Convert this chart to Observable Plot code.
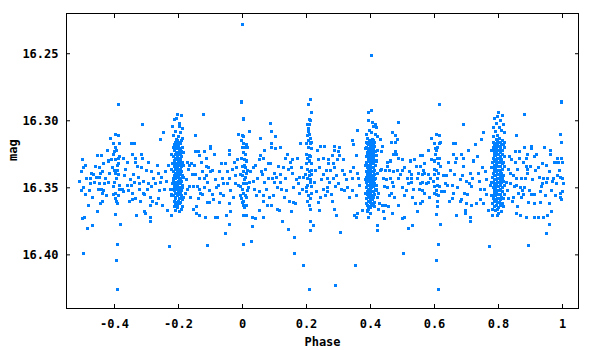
<!DOCTYPE html>
<html><head><meta charset="utf-8">
<script src="https://cdn.jsdelivr.net/npm/d3@7"></script>
<script src="https://cdn.jsdelivr.net/npm/@observablehq/plot@0.6"></script>
<style>html,body{margin:0;padding:0;background:#fff;}</style>
</head><body><div id="chart"></div>
<script>
const xTicks = [-0.4, -0.2, 0, 0.2, 0.4, 0.6, 0.8, 1];
const yTicks = [16.25, 16.30, 16.35, 16.40];
const xLabel = "Phase";
const yLabel = "mag";

const bandA = [[-0.5,16.329],[-0.497,16.335],[-0.503,16.338],[-0.472,16.339],[-0.466,16.340],[-0.453,16.326],[-0.441,16.326],[-0.447,16.335],[-0.434,16.332],[-0.422,16.322],[-0.419,16.330],[-0.438,16.338],[-0.488,16.343],[-0.475,16.343],[-0.456,16.342],[-0.447,16.342],[-0.503,16.352],[-0.497,16.350],[-0.475,16.347],[-0.491,16.355],[-0.469,16.357],[-0.481,16.363],[-0.5,16.373],[-0.494,16.372],[-0.484,16.380],[-0.453,16.368],[-0.45,16.351],[-0.441,16.351],[-0.447,16.347],[-0.431,16.347],[-0.438,16.354],[-0.434,16.352],[-0.444,16.362],[-0.438,16.360],[-0.497,16.399],[-0.469,16.378]];
const clumpM04 = [[-0.413,16.313],[-0.397,16.310],[-0.388,16.311],[-0.403,16.317],[-0.384,16.317],[-0.397,16.320],[-0.394,16.322],[-0.4,16.323],[-0.409,16.329],[-0.397,16.329],[-0.388,16.328],[-0.388,16.332],[-0.4,16.337],[-0.391,16.337],[-0.397,16.339],[-0.388,16.340],[-0.419,16.346],[-0.403,16.349],[-0.403,16.355],[-0.397,16.354],[-0.388,16.356],[-0.384,16.351],[-0.375,16.351],[-0.372,16.353],[-0.397,16.370],[-0.394,16.360],[-0.381,16.377],[-0.388,16.288],[-0.391,16.392],[-0.394,16.404],[-0.391,16.426],[-0.394,16.343],[-0.4,16.346],[-0.391,16.333],[-0.384,16.348],[-0.406,16.335],[-0.397,16.358],[-0.391,16.362],[-0.384,16.327],[-0.403,16.325]];
const bandB = [[-0.372,16.328],[-0.359,16.331],[-0.347,16.317],[-0.338,16.317],[-0.344,16.325],[-0.334,16.328],[-0.334,16.331],[-0.316,16.325],[-0.313,16.328],[-0.316,16.335],[-0.313,16.303],[-0.341,16.340],[-0.369,16.341],[-0.359,16.348],[-0.347,16.348],[-0.353,16.360],[-0.344,16.359],[-0.334,16.358],[-0.344,16.354],[-0.331,16.371],[-0.322,16.347],[-0.322,16.351],[-0.319,16.360],[-0.309,16.354],[-0.306,16.355],[-0.306,16.368],[-0.303,16.369],[-0.294,16.347],[-0.288,16.357],[-0.288,16.363],[-0.288,16.372],[-0.288,16.375],[-0.284,16.349],[-0.281,16.360],[-0.269,16.362],[-0.25,16.363],[-0.256,16.346],[-0.244,16.351],[-0.234,16.367],[-0.222,16.371],[-0.222,16.356],[-0.225,16.351],[-0.247,16.309],[-0.256,16.314],[-0.263,16.339],[-0.228,16.394],[-0.3,16.337],[-0.278,16.343],[-0.266,16.333],[-0.24,16.338],[-0.259,16.352],[-0.35,16.344],[-0.325,16.342],[-0.294,16.331]];
const clumpM02 = [[-0.203,16.295],[-0.191,16.296],[-0.206,16.298],[-0.213,16.299],[-0.197,16.302],[-0.219,16.304],[-0.197,16.304],[-0.188,16.306],[-0.209,16.308],[-0.194,16.309],[-0.216,16.311],[-0.188,16.313],
[-0.214,16.318],[-0.211,16.322],[-0.216,16.327],[-0.213,16.330],[-0.211,16.334],[-0.215,16.338],[-0.212,16.341],[-0.216,16.345],[-0.213,16.349],[-0.211,16.352],[-0.215,16.356],[-0.212,16.360],
[-0.207,16.314],[-0.205,16.317],[-0.208,16.320],[-0.206,16.324],[-0.204,16.326],[-0.208,16.329],[-0.205,16.332],[-0.207,16.335],[-0.204,16.337],[-0.206,16.340],[-0.208,16.343],[-0.205,16.346],[-0.207,16.348],[-0.204,16.351],[-0.206,16.354],[-0.208,16.357],[-0.205,16.361],[-0.207,16.364],
[-0.199,16.312],[-0.197,16.316],[-0.2,16.319],[-0.198,16.322],[-0.196,16.325],[-0.2,16.328],[-0.198,16.331],[-0.196,16.333],[-0.199,16.336],[-0.197,16.339],[-0.2,16.342],[-0.198,16.344],[-0.196,16.347],[-0.199,16.350],[-0.197,16.353],[-0.2,16.355],[-0.198,16.358],[-0.196,16.362],
[-0.191,16.315],[-0.189,16.320],[-0.192,16.323],[-0.19,16.327],[-0.188,16.331],[-0.192,16.334],[-0.19,16.338],[-0.188,16.341],[-0.191,16.345],[-0.189,16.348],[-0.192,16.352],[-0.19,16.356],[-0.188,16.359],
[-0.184,16.324],[-0.185,16.333],[-0.183,16.342],[-0.186,16.350],[-0.184,16.357],[-0.221,16.325],[-0.222,16.336],[-0.22,16.347],[-0.221,16.355],
[-0.203,16.365],[-0.197,16.368],[-0.191,16.366],[-0.213,16.364],[-0.209,16.367],[-0.188,16.364]];
const clumpM02b = [[-0.210,16.316],[-0.209,16.319],[-0.21,16.325],[-0.209,16.328],[-0.21,16.332],[-0.209,16.336],[-0.21,16.339],[-0.209,16.342],[-0.21,16.347],[-0.209,16.350],[-0.21,16.354],[-0.209,16.358],[-0.21,16.362],
[-0.202,16.315],[-0.201,16.318],[-0.202,16.321],[-0.201,16.324],[-0.202,16.327],[-0.201,16.330],[-0.202,16.334],[-0.201,16.338],[-0.202,16.341],[-0.201,16.345],[-0.202,16.349],[-0.201,16.352],[-0.202,16.356],[-0.201,16.360],[-0.202,16.363],
[-0.194,16.317],[-0.193,16.321],[-0.194,16.325],[-0.193,16.329],[-0.194,16.332],[-0.193,16.336],[-0.194,16.340],[-0.193,16.343],[-0.194,16.347],[-0.193,16.350],[-0.194,16.354],[-0.193,16.358],[-0.194,16.361],
[-0.217,16.320],[-0.218,16.332],[-0.217,16.343],[-0.218,16.351]];
const bandC = [[-0.147,16.311],[-0.122,16.295],[-0.172,16.331],[-0.159,16.332],[-0.147,16.323],[-0.138,16.323],[-0.134,16.326],[-0.128,16.331],[-0.119,16.323],[-0.113,16.328],[-0.1,16.319],[-0.1,16.321],[-0.088,16.325],[-0.113,16.334],[-0.106,16.335],[-0.1,16.338],[-0.113,16.341],[-0.119,16.343],[-0.134,16.343],[-0.147,16.340],[-0.156,16.340],[-0.169,16.336],[-0.166,16.333],[-0.066,16.332],[-0.053,16.332],[-0.041,16.322],[-0.041,16.325],[-0.047,16.338],[-0.063,16.343],[-0.041,16.343],[-0.025,16.331],[-0.016,16.329],[-0.019,16.335],[-0.013,16.310],[-0.022,16.341],[-0.006,16.340],[-0.178,16.354],[-0.172,16.351],[-0.166,16.349],[-0.153,16.349],[-0.141,16.349],[-0.134,16.351],[-0.131,16.354],[-0.125,16.355],[-0.153,16.366],[-0.144,16.364],[-0.144,16.369],[-0.134,16.371],[-0.119,16.350],[-0.116,16.372],[-0.109,16.361],[-0.103,16.361],[-0.094,16.355],[-0.091,16.359],[-0.084,16.372],[-0.078,16.372],[-0.072,16.361],[-0.069,16.354],[-0.05,16.371],[-0.041,16.362],[-0.038,16.368],[-0.038,16.352],[-0.041,16.377],[-0.053,16.384],[-0.081,16.350],[-0.075,16.348],[-0.103,16.352],[-0.059,16.347],[-0.047,16.347],[-0.022,16.347],[-0.013,16.348],[-0.006,16.356],[-0.109,16.393]];
const clump00 = [[-0.003,16.286],[0.003,16.298],[0.003,16.299],[0,16.311],[0.003,16.312],[-0.003,16.315],[0.003,16.317],[0.013,16.318],[0,16.320],[0.009,16.320],[0.016,16.320],[0.003,16.324],[0.009,16.325],[-0.003,16.328],[0.006,16.329],[0.013,16.330],[0,16.334],[0.009,16.335],[0.016,16.337],[0.003,16.338],[0.013,16.339],[0,16.341],[0.009,16.342],[0.003,16.347],[0.013,16.347],[0.022,16.346],[0,16.351],[0.003,16.354],[0.009,16.356],[0.013,16.357],[-0.003,16.358],[0.003,16.360],[0.003,16.363],[0.006,16.365],[0.003,16.371],[0.013,16.371],[0.031,16.372],[0.041,16.373],[0.003,16.392],[0.028,16.390],[0.031,16.379],[0,16.228],[0.006,16.344],[-0.006,16.349],[0.016,16.352],[0.006,16.333],[0,16.361],[0.013,16.363]];
const bandD = [[0.022,16.308],[0.056,16.313],[0.088,16.302],[0.091,16.308],[0.103,16.312],[0.091,16.317],[0.091,16.320],[0.103,16.321],[0.119,16.320],[0.069,16.322],[0.141,16.325],[0.134,16.328],[0.156,16.329],[0.15,16.331],[0.172,16.328],[0.181,16.317],[0.056,16.326],[0.066,16.328],[0.053,16.329],[0.041,16.333],[0.034,16.335],[0.081,16.332],[0.088,16.332],[0.113,16.334],[0.072,16.336],[0.063,16.340],[0.1,16.339],[0.119,16.340],[0.081,16.343],[0.094,16.343],[0.047,16.343],[0.144,16.336],[0.153,16.335],[0.156,16.339],[0.134,16.343],[0.178,16.342],[0.019,16.350],[0.038,16.351],[0.053,16.353],[0.066,16.356],[0.066,16.360],[0.078,16.363],[0.091,16.363],[0.053,16.367],[0.066,16.372],[0.069,16.346],[0.1,16.346],[0.119,16.346],[0.138,16.352],[0.097,16.356],[0.109,16.350],[0.122,16.351],[0.109,16.366],[0.116,16.367],[0.147,16.360],[0.159,16.361],[0.166,16.362],[0.153,16.368],[0.159,16.350],[0.175,16.347],[0.178,16.354],[0.188,16.351],[0.125,16.375],[0.144,16.381],[0.163,16.387],[0.163,16.399],[0.191,16.408]];
const clump02 = [[0.213,16.284],[0.206,16.288],[0.216,16.294],[0.209,16.299],[0.213,16.300],[0.203,16.303],[0.209,16.303],[0.206,16.306],[0.206,16.308],[0.209,16.310],[0.203,16.311],[0.213,16.313],[0.206,16.315],[0.216,16.316],[0.2,16.317],[0.213,16.317],[0.206,16.320],[0.216,16.321],[0.2,16.325],[0.209,16.326],[0.213,16.327],[0.203,16.328],[0.209,16.330],[0.2,16.332],[0.216,16.332],[0.203,16.336],[0.209,16.338],[0.216,16.337],[0.197,16.340],[0.209,16.341],[0.216,16.340],[0.203,16.343],[0.213,16.344],[0.2,16.350],[0.206,16.356],[0.203,16.360],[0.209,16.363],[0.213,16.366],[0.203,16.348],[0.216,16.349],[0.213,16.346],[0.213,16.375],[0.222,16.378],[0.213,16.382],[0.209,16.426],[0.2,16.353],[0.213,16.358],[0.216,16.354]];
const bandE = [[0.234,16.322],[0.244,16.319],[0.256,16.319],[0.238,16.329],[0.253,16.328],[0.269,16.329],[0.288,16.319],[0.303,16.320],[0.288,16.322],[0.3,16.323],[0.281,16.326],[0.303,16.326],[0.269,16.332],[0.284,16.332],[0.297,16.329],[0.316,16.329],[0.263,16.337],[0.275,16.337],[0.288,16.335],[0.253,16.340],[0.266,16.343],[0.284,16.343],[0.294,16.341],[0.228,16.337],[0.241,16.335],[0.319,16.340],[0.344,16.315],[0.347,16.318],[0.359,16.307],[0.356,16.326],[0.347,16.335],[0.359,16.339],[0.344,16.343],[0.363,16.343],[0.238,16.361],[0.241,16.367],[0.244,16.357],[0.253,16.351],[0.266,16.350],[0.259,16.356],[0.266,16.353],[0.281,16.360],[0.294,16.371],[0.288,16.366],[0.291,16.349],[0.309,16.351],[0.319,16.352],[0.328,16.350],[0.344,16.352],[0.356,16.356],[0.306,16.383],[0.291,16.423],[0.353,16.408],[0.35,16.371],[0.356,16.372],[0.359,16.369],[0.375,16.367]];
const clump04 = [[0.403,16.251],[0.403,16.292],[0.394,16.294],[0.406,16.301],[0.394,16.300],[0.416,16.303],[0.409,16.304],[0.419,16.305],[0.397,16.307],[0.388,16.310],[0.403,16.309],[0.416,16.310],[0.391,16.313],[0.422,16.312],
[0.389,16.316],[0.387,16.320],[0.39,16.324],[0.388,16.327],[0.386,16.331],[0.39,16.335],[0.388,16.338],[0.386,16.342],[0.389,16.346],[0.387,16.350],[0.39,16.353],[0.388,16.358],[0.386,16.362],
[0.397,16.315],[0.395,16.318],[0.398,16.321],[0.396,16.324],[0.394,16.327],[0.398,16.330],[0.396,16.333],[0.394,16.336],[0.397,16.339],[0.395,16.342],[0.398,16.345],[0.396,16.348],[0.394,16.351],[0.397,16.354],[0.395,16.357],[0.398,16.360],[0.396,16.364],
[0.406,16.314],[0.404,16.317],[0.407,16.320],[0.405,16.323],[0.403,16.326],[0.407,16.329],[0.405,16.332],[0.403,16.335],[0.406,16.338],[0.404,16.341],[0.407,16.344],[0.405,16.347],[0.403,16.350],[0.406,16.353],[0.404,16.356],[0.407,16.359],[0.405,16.363],
[0.414,16.316],[0.412,16.319],[0.415,16.323],[0.413,16.326],[0.411,16.330],[0.415,16.333],[0.413,16.337],[0.411,16.340],[0.414,16.344],[0.412,16.347],[0.415,16.351],[0.413,16.355],[0.411,16.361],
[0.421,16.322],[0.42,16.330],[0.422,16.339],[0.419,16.348],[0.421,16.357],
[0.391,16.367],[0.394,16.366],[0.413,16.364],[0.4,16.369],[0.391,16.368],[0.394,16.372],[0.394,16.364],[0.403,16.363],[0.422,16.378],[0.422,16.382],[0.425,16.366]];
const clump04b = [[0.392,16.317],[0.393,16.322],[0.392,16.325],[0.393,16.329],[0.392,16.333],[0.393,16.337],[0.392,16.340],[0.393,16.344],[0.392,16.348],[0.393,16.352],[0.392,16.355],[0.393,16.360],[0.392,16.363],
[0.401,16.316],[0.4,16.319],[0.401,16.322],[0.4,16.325],[0.401,16.328],[0.4,16.331],[0.401,16.334],[0.4,16.337],[0.401,16.340],[0.4,16.343],[0.401,16.346],[0.4,16.349],[0.401,16.352],[0.4,16.355],[0.401,16.358],[0.4,16.361],[0.401,16.365],
[0.409,16.315],[0.41,16.318],[0.409,16.321],[0.41,16.325],[0.409,16.328],[0.41,16.331],[0.409,16.335],[0.41,16.338],[0.409,16.342],[0.41,16.346],[0.409,16.349],[0.41,16.353],[0.409,16.357],[0.41,16.362],
[0.384,16.321],[0.383,16.333],[0.384,16.344],[0.383,16.354],[0.418,16.326],[0.417,16.343],[0.418,16.352]];
const bandF = [[0.431,16.314],[0.438,16.319],[0.434,16.323],[0.434,16.336],[0.447,16.337],[0.459,16.337],[0.453,16.331],[0.453,16.334],[0.466,16.316],[0.469,16.309],[0.478,16.311],[0.484,16.314],[0.488,16.301],[0.478,16.316],[0.478,16.323],[0.481,16.325],[0.472,16.325],[0.488,16.328],[0.5,16.329],[0.506,16.335],[0.5,16.337],[0.484,16.337],[0.472,16.338],[0.522,16.338],[0.528,16.340],[0.463,16.343],[0.488,16.343],[0.516,16.343],[0.528,16.343],[0.441,16.343],[0.428,16.362],[0.438,16.363],[0.441,16.368],[0.444,16.373],[0.447,16.363],[0.456,16.364],[0.469,16.369],[0.488,16.363],[0.5,16.373],[0.506,16.372],[0.503,16.399],[0.519,16.380],[0.531,16.378],[0.425,16.354],[0.419,16.351],[0.444,16.349],[0.453,16.350],[0.459,16.356],[0.466,16.354],[0.469,16.346],[0.472,16.349],[0.5,16.350],[0.506,16.356],[0.519,16.347],[0.528,16.346],[0.531,16.357],[0.556,16.326],[0.563,16.326],[0.581,16.322],[0.569,16.332],[0.556,16.334],[0.566,16.337],[0.569,16.339],[0.563,16.340],[0.581,16.340],[0.588,16.343],[0.547,16.343],[0.556,16.347],[0.563,16.346],[0.553,16.351],[0.563,16.352],[0.569,16.354],[0.556,16.362],[0.563,16.360],[0.547,16.368],[0.581,16.346],[0.538,16.329],[0.544,16.334],[0.534,16.351],[0.541,16.362]];
const clump06 = [[0.616,16.288],[0.591,16.313],[0.606,16.310],[0.616,16.311],[0.6,16.317],[0.616,16.317],[0.619,16.316],[0.603,16.321],[0.609,16.320],[0.606,16.322],[0.591,16.329],[0.6,16.330],[0.609,16.328],[0.616,16.328],[0.6,16.336],[0.606,16.337],[0.613,16.339],[0.6,16.340],[0.609,16.343],[0.619,16.334],[0.6,16.349],[0.609,16.348],[0.616,16.349],[0.6,16.354],[0.606,16.355],[0.613,16.356],[0.606,16.352],[0.622,16.353],[0.631,16.353],[0.609,16.360],[0.606,16.370],[0.619,16.377],[0.613,16.392],[0.606,16.404],[0.613,16.426],[0.603,16.325],[0.613,16.332],[0.597,16.345],[0.609,16.364]];
const bandG = [[0.644,16.331],[0.628,16.341],[0.638,16.341],[0.659,16.317],[0.666,16.317],[0.659,16.325],[0.666,16.331],[0.669,16.328],[0.684,16.325],[0.691,16.328],[0.691,16.334],[0.663,16.340],[0.681,16.344],[0.691,16.303],[0.753,16.309],[0.747,16.314],[0.738,16.339],[0.763,16.344],[0.641,16.348],[0.656,16.348],[0.659,16.354],[0.656,16.358],[0.647,16.360],[0.669,16.371],[0.681,16.360],[0.684,16.359],[0.694,16.354],[0.703,16.355],[0.697,16.367],[0.697,16.369],[0.713,16.372],[0.713,16.375],[0.716,16.363],[0.731,16.362],[0.709,16.347],[0.716,16.349],[0.744,16.351],[0.756,16.351],[0.744,16.359],[0.753,16.362],[0.763,16.355],[0.769,16.367],[0.781,16.371],[0.772,16.394],[0.781,16.366],[0.706,16.322],[0.722,16.330],[0.728,16.318],[0.713,16.339],[0.734,16.327],[0.75,16.335],[0.7,16.345]];
const clump08 = [[0.8,16.294],[0.813,16.296],[0.788,16.298],[0.797,16.297],[0.806,16.300],[0.794,16.302],[0.816,16.303],[0.784,16.305],[0.803,16.305],[0.791,16.308],[0.81,16.307],[0.819,16.309],[0.797,16.311],[0.784,16.312],
[0.785,16.316],[0.783,16.320],[0.786,16.324],[0.784,16.328],[0.782,16.331],[0.786,16.335],[0.784,16.339],[0.782,16.342],[0.785,16.346],[0.783,16.350],[0.786,16.354],[0.784,16.358],[0.782,16.362],
[0.794,16.314],[0.792,16.317],[0.795,16.320],[0.793,16.323],[0.791,16.326],[0.795,16.329],[0.793,16.332],[0.791,16.335],[0.794,16.338],[0.792,16.341],[0.795,16.344],[0.793,16.347],[0.791,16.350],[0.794,16.353],[0.792,16.356],[0.795,16.359],[0.793,16.363],
[0.803,16.313],[0.801,16.316],[0.804,16.319],[0.802,16.322],[0.8,16.325],[0.804,16.328],[0.802,16.331],[0.8,16.334],[0.803,16.337],[0.801,16.340],[0.804,16.343],[0.802,16.346],[0.8,16.349],[0.803,16.352],[0.801,16.355],[0.804,16.358],[0.802,16.361],[0.8,16.365],
[0.812,16.315],[0.81,16.318],[0.813,16.322],[0.811,16.325],[0.809,16.329],[0.813,16.332],[0.811,16.336],[0.809,16.339],[0.812,16.343],[0.81,16.346],[0.813,16.350],[0.811,16.353],[0.809,16.357],[0.812,16.362],
[0.819,16.320],[0.818,16.327],[0.82,16.334],[0.817,16.341],[0.819,16.348],[0.818,16.355],
[0.791,16.367],[0.8,16.369],[0.809,16.368],[0.797,16.371]];
const clump08b = [[0.789,16.318],[0.788,16.322],[0.789,16.326],[0.788,16.330],[0.789,16.333],[0.788,16.337],[0.789,16.341],[0.788,16.344],[0.789,16.348],[0.788,16.352],[0.789,16.356],[0.788,16.360],[0.789,16.364],
[0.798,16.315],[0.797,16.318],[0.798,16.322],[0.797,16.325],[0.798,16.328],[0.797,16.331],[0.798,16.334],[0.797,16.337],[0.798,16.340],[0.797,16.343],[0.798,16.346],[0.797,16.349],[0.798,16.352],[0.797,16.355],[0.798,16.358],[0.797,16.361],[0.798,16.366],
[0.807,16.316],[0.806,16.320],[0.807,16.324],[0.806,16.327],[0.807,16.330],[0.806,16.334],[0.807,16.338],[0.806,16.341],[0.807,16.345],[0.806,16.348],[0.807,16.351],[0.806,16.355],[0.807,16.359],[0.806,16.363],
[0.779,16.322],[0.778,16.335],[0.779,16.346],[0.778,16.356],[0.816,16.318],[0.816,16.331],[0.815,16.345],[0.816,16.358]];
const bandH = [[0.856,16.311],[0.881,16.295],[0.819,16.316],[0.853,16.323],[0.866,16.323],[0.891,16.325],[0.881,16.320],[0.903,16.319],[0.903,16.321],[0.919,16.325],[0.913,16.327],[0.841,16.329],[0.853,16.331],[0.866,16.328],[0.878,16.331],[0.831,16.336],[0.838,16.339],[0.847,16.341],[0.856,16.343],[0.872,16.343],[0.888,16.334],[0.9,16.334],[0.891,16.336],[0.891,16.339],[0.888,16.328],[0.938,16.332],[0.95,16.333],[0.959,16.338],[0.941,16.343],[0.953,16.343],[0.963,16.322],[0.963,16.325],[0.975,16.331],[0.981,16.331],[0.984,16.328],[0.988,16.331],[1.0,16.331],[0.994,16.310],[0.997,16.316],[0.997,16.328],[0.997,16.286],[0.984,16.341],[0.994,16.342],[1.0,16.343],[0.972,16.343],[0.816,16.364],[0.825,16.346],[0.831,16.358],[0.844,16.360],[0.838,16.347],[0.85,16.349],[0.856,16.348],[0.859,16.364],[0.856,16.369],[0.869,16.371],[0.869,16.350],[0.875,16.352],[0.881,16.350],[0.863,16.354],[0.878,16.355],[0.897,16.352],[0.903,16.355],[0.913,16.355],[0.894,16.361],[0.913,16.362],[0.888,16.372],[0.913,16.372],[0.925,16.372],[0.894,16.393],[0.931,16.353],[0.931,16.361],[0.941,16.372],[0.953,16.371],[0.95,16.384],[0.959,16.377],[0.959,16.362],[0.966,16.368],[0.938,16.347],[0.95,16.346],[0.966,16.352],[0.981,16.347],[0.994,16.354],[1.0,16.353],[0.994,16.357],[0.997,16.359],[0.925,16.335],[0.928,16.342],[0.944,16.320]];
const bandExtra = [[-0.509,16.345],[-0.49,16.333],[-0.478,16.352],[-0.463,16.346],[-0.459,16.334],[-0.444,16.339],[-0.428,16.343],[-0.425,16.356],[-0.416,16.339],
[-0.366,16.336],[-0.356,16.352],[-0.338,16.346],[-0.328,16.334],[-0.31,16.345],[-0.297,16.351],[-0.284,16.338],[-0.272,16.347],[-0.262,16.358],[-0.253,16.342],[-0.238,16.345],[-0.231,16.333],
[-0.175,16.344],[-0.163,16.357],[-0.15,16.333],[-0.138,16.358],[-0.125,16.338],[-0.109,16.346],[-0.094,16.337],[-0.084,16.344],[-0.072,16.338],[-0.059,16.356],[-0.031,16.336],[-0.028,16.357],
[0.025,16.338],[0.034,16.345],[0.044,16.356],[0.059,16.338],[0.075,16.351],[0.084,16.357],[0.106,16.342],[0.128,16.335],[0.131,16.357],[0.169,16.344],[0.184,16.335],[0.191,16.342],
[0.225,16.346],[0.231,16.353],[0.248,16.344],[0.272,16.346],[0.278,16.355],[0.3,16.347],[0.313,16.337],[0.325,16.344],[0.334,16.357],[0.338,16.338],[0.366,16.348],
[0.431,16.337],[0.45,16.344],[0.463,16.33],[0.475,16.357],[0.494,16.34],[0.513,16.352],[0.525,16.33],[0.55,16.339],[0.575,16.347],[0.584,16.357],
[0.634,16.347],[0.65,16.337],[0.672,16.35],[0.688,16.341],[0.7,16.362],[0.719,16.343],[0.741,16.345],[0.759,16.338],[0.775,16.348],
[0.828,16.352],[0.834,16.327],[0.847,16.357],[0.859,16.336],[0.872,16.357],[0.884,16.343],[0.906,16.344],[0.916,16.337],[0.934,16.349],[0.947,16.356],[0.969,16.345],[0.978,16.356],[0.991,16.337],[1.003,16.347]];

const groups = [bandA, clumpM04, bandB, clumpM02, clumpM02b, bandC, clump00, bandD, clump02, bandE, clump04, clump04b, bandF, clump06, bandG, clump08, clump08b, bandH, bandExtra];
const points = groups.flat().map(([phase, mag]) => ({phase, mag}));

const chart = Plot.plot({
  width: 600, height: 350,
  marginLeft: 66, marginRight: 22, marginTop: 13, marginBottom: 42,
  style: {fontFamily: "'DejaVu Sans Mono', monospace", fontSize: "12px", fontWeight: "bold", background: "#fff", color: "#000"},
  x: {domain: [-0.55, 1.05]},
  y: {domain: [16.22, 16.44], reverse: true},
  marks: [
    Plot.dot(points, {x: "phase", y: "mag", symbol: "square", r: 1.7, fill: "#0080ff", stroke: null, shapeRendering: "crispEdges"}),
    Plot.frame({stroke: "#000", strokeWidth: 1}),
    Plot.axisX(xTicks, {anchor: "bottom", tickSize: -4, tickPadding: 15, tickFormat: d => String(d), label: null}),
    Plot.axisX(xTicks, {anchor: "top", tickSize: -4, tickFormat: () => "", label: null}),
    Plot.axisY(yTicks, {anchor: "left", tickSize: -4, tickPadding: 12, tickFormat: d3.format(".2f"), label: null}),
    Plot.axisY(yTicks, {anchor: "right", tickSize: -4, tickFormat: () => "", label: null}),
    Plot.text([xLabel], {frameAnchor: "bottom", dy: 37, text: d => d, fontSize: 12, fontWeight: "bold"}),
    Plot.text([yLabel], {frameAnchor: "left", dx: -53, rotate: -90, text: d => d, fontSize: 12, fontWeight: "bold"})
  ]
});
document.getElementById("chart").appendChild(chart);
</script>
</body></html>
